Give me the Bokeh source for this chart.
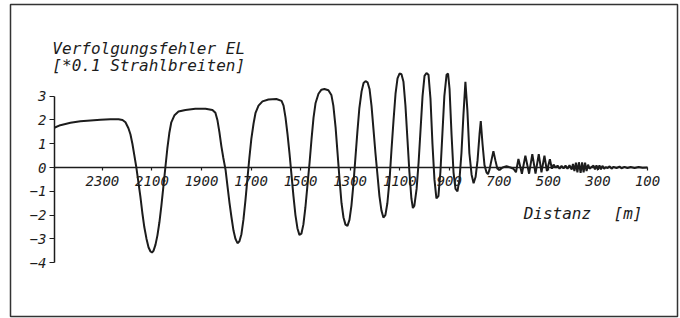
from bokeh.plotting import figure
from bokeh.models import Range1d, LinearAxis, FixedTicker, Label
from bokeh.embed import file_html
from bokeh.resources import INLINE

# ---- data ----
distance_m = [2494, 2470, 2429, 2389, 2348, 2308, 2268, 2235, 2219, 2207, 2195, 2187, 2179, 2171,
              2163, 2155, 2147, 2139, 2131, 2122, 2114, 2106, 2100, 2094, 2086, 2078, 2070, 2062,
              2054, 2046, 2038, 2030, 2022, 2009, 1993, 1965, 1925, 1884, 1856, 1844, 1836, 1828,
              1820, 1812, 1803, 1795, 1787, 1779, 1771, 1763, 1755, 1747, 1739, 1731, 1723, 1715,
              1707, 1699, 1690, 1682, 1670, 1654, 1630, 1598, 1577, 1569, 1561, 1553, 1545, 1537,
              1529, 1521, 1513, 1505, 1497, 1489, 1481, 1473, 1464, 1456, 1448, 1440, 1428, 1416,
              1404, 1388, 1376, 1368, 1359, 1351, 1343, 1335, 1327, 1319, 1311, 1303, 1295, 1287,
              1279, 1271, 1263, 1254, 1246, 1238, 1230, 1222, 1214, 1206, 1198, 1190, 1182, 1174,
              1166, 1158, 1150, 1141, 1133, 1125, 1117, 1109, 1101, 1093, 1085, 1077, 1069, 1061,
              1053, 1047, 1041, 1032, 1024, 1016, 1008, 1000, 992, 984, 976, 968, 960, 952,
              944, 936, 928, 920, 911, 905, 899, 891, 883, 875, 867, 859, 851, 843,
              835, 827, 819, 810, 802, 794, 786, 778, 773, 766, 758, 750, 744, 738,
              730, 722, 714, 706, 697, 685, 669, 653, 641, 631, 621, 607, 593, 578,
              565, 552, 539, 528, 516, 506, 494, 486, 479, 471, 463, 455, 447, 439,
              431, 423, 415, 406, 401, 395, 389, 383, 377, 370, 364, 358, 352, 346,
              340, 334, 326, 318, 312, 306, 300, 294, 288, 282, 275, 269, 261, 253,
              245, 237, 225, 213, 205, 193, 181, 168, 152, 136, 120, 100]
error_01 = [1.67, 1.78, 1.88, 1.94, 1.98, 2.01, 2.03, 2.03, 2.0, 1.9, 1.65, 1.4, 1.0, 0.5,
            0.0, -0.6, -1.2, -1.9, -2.5, -3.0, -3.35, -3.53, -3.57, -3.5, -3.25, -2.85, -2.3, -1.6,
            -0.8, 0.0, 0.8, 1.45, 1.9, 2.2, 2.35, 2.42, 2.47, 2.47, 2.42, 2.3, 2.0, 1.5,
            0.9, 0.4, -0.1, -0.8, -1.5, -2.1, -2.65, -3.0, -3.18, -3.1, -2.8, -2.2, -1.4, -0.5,
            0.4, 1.2, 1.85, 2.3, 2.6, 2.78, 2.86, 2.88, 2.8, 2.6, 2.1, 1.4, 0.6, -0.3,
            -1.2, -2.0, -2.55, -2.83, -2.78, -2.4, -1.7, -0.8, 0.2, 1.2, 2.1, 2.7, 3.1, 3.27,
            3.3, 3.25, 3.05, 2.6, 1.7, 0.6, -0.5, -1.5, -2.1, -2.4, -2.45, -2.2, -1.6, -0.7,
            0.4, 1.5, 2.5, 3.2, 3.55, 3.63, 3.58, 3.3, 2.6, 1.6, 0.6, -0.3, -1.2, -1.8,
            -2.1, -2.0, -1.5, -0.5, 0.8, 2.0, 3.1, 3.75, 3.95, 3.92, 3.6, 2.6, 1.2, -0.2,
            -1.3, -1.7, -1.6, -0.9, 0.2, 1.6, 3.0, 3.85, 3.97, 3.9, 2.9, 1.0, -0.5, -1.3,
            -1.2, -0.2, 1.4, 3.0, 3.9, 3.95, 3.3, 1.4, -0.2, -0.9, -1.0, -0.5, 0.6, 2.2,
            3.6, 2.4, 0.6, -0.3, -0.66, -0.4, 0.3, 1.4, 1.95, 1.0, 0.1, -0.2, -0.28, -0.1,
            0.3, 0.69, 0.3, -0.05, -0.1, 0.0, 0.05, 0.0, -0.05, -0.2, 0.36, -0.26, 0.5, -0.26,
            0.56, -0.25, 0.56, -0.2, 0.5, -0.15, 0.35, -0.05, 0.12, 0.0, 0.08, -0.05, 0.07, -0.04,
            0.08, -0.05, 0.1, -0.08, 0.15, -0.15, 0.2, -0.2, 0.22, -0.22, 0.22, -0.2, 0.2, -0.15,
            0.12, -0.05, 0.02, 0.08, -0.08, 0.09, -0.09, 0.09, -0.08, 0.07, -0.05, 0.02, -0.02, 0.05,
            -0.05, 0.03, -0.02, 0.04, -0.03, 0.03, -0.02, 0.02, -0.02, 0.02, -0.01, 0.0]

x_ticks = [2300, 2100, 1900, 1700, 1500, 1300, 1100, 900, 700, 500, 300, 100]
y_ticks = [-4, -3, -2, -1, 0, 1, 2, 3]

title_line1 = "Verfolgungsfehler EL"
title_line2 = "[*0.1 Strahlbreiten]"
x_label_word = "Distanz"
x_label_unit = "[m]"

# ---- styling ----
FONT = "DejaVu Sans Mono"
INK = "#1c1c1c"

p = figure(width=680, height=318, output_backend="svg", toolbar_location=None,
           x_range=Range1d(2671, -21), y_range=Range1d(-6.26, 6.85),
           x_axis_type=None, y_axis_type=None, title=None,
           min_border_left=10, min_border_right=3, min_border_top=4, min_border_bottom=2)
p.outline_line_color = "#333333"
p.outline_line_width = 1.5
p.xgrid.visible = False
p.ygrid.visible = False
p.background_fill_color = "white"
p.border_fill_color = "white"

xaxis = LinearAxis(ticker=FixedTicker(ticks=x_ticks), fixed_location=0,
                   bounds=(100, 2494))
xaxis.axis_line_color = INK
xaxis.axis_line_width = 1.5
xaxis.major_tick_line_color = INK
xaxis.major_tick_line_width = 1.2
xaxis.major_tick_out = 3
xaxis.major_tick_in = 0
xaxis.minor_tick_line_color = None
xaxis.major_label_standoff = 5
xaxis.major_label_text_font = FONT
xaxis.major_label_text_font_style = "italic"
xaxis.major_label_text_font_size = "14px"
xaxis.major_label_text_color = INK
p.add_layout(xaxis, "below")

yaxis = LinearAxis(ticker=FixedTicker(ticks=y_ticks), fixed_location=2494,
                   bounds=(-4, 3))
yaxis.axis_line_color = INK
yaxis.axis_line_width = 1.5
yaxis.major_tick_line_color = INK
yaxis.major_tick_line_width = 1.2
yaxis.major_tick_out = 5
yaxis.major_tick_in = 0
yaxis.minor_tick_line_color = None
yaxis.major_label_standoff = 3
yaxis.major_label_text_font = FONT
yaxis.major_label_text_font_style = "italic"
yaxis.major_label_text_font_size = "14px"
yaxis.major_label_text_color = INK
p.add_layout(yaxis, "left")

p.line(distance_m, error_01, line_color=INK, line_width=2)

for txt, yy in [(title_line1, 4.99), (title_line2, 4.29)]:
    p.add_layout(Label(x=2502, y=yy, text=txt, text_font=FONT, text_font_style="italic",
                       text_font_size="16px", text_color=INK, text_baseline="alphabetic"))
for txt, xx in [(x_label_word, 600), (x_label_unit, 237)]:
    p.add_layout(Label(x=xx, y=-1.92, text=txt, text_font=FONT, text_font_style="italic",
                       text_font_size="16px", text_color=INK, text_baseline="alphabetic"))

open("out.html", "w").write(file_html(p, INLINE))
